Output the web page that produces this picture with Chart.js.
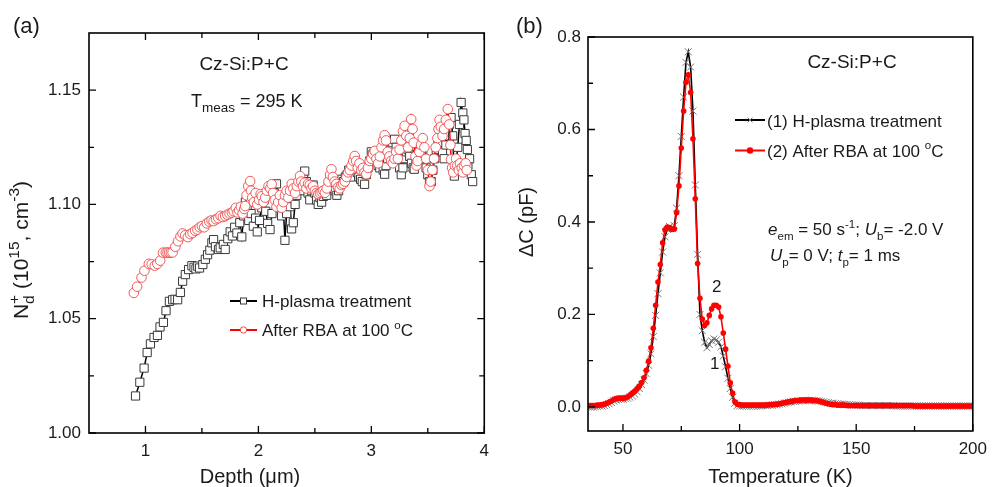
<!DOCTYPE html>
<html>
<head>
<meta charset="utf-8">
<script src="https://cdn.jsdelivr.net/npm/chart.js@4.4.1/dist/chart.umd.min.js"></script>
<style>
  html, body { margin: 0; padding: 0; background: #fff; }
  #wrap { position: relative; width: 995px; height: 487px; overflow: hidden; }
  #wrap canvas { position: absolute; top: 0; }
  #chartA { left: 0; }
  #chartB { left: 497px; }
</style>
</head>
<body>
<div id="wrap">
  <canvas id="chartA" width="497" height="487"></canvas>
  <canvas id="chartB" width="498" height="487"></canvas>
</div>
<script>
/* ======================================
   DATA  (a) Nd+ vs depth
====================================== */
const depthTicks = [1, 2, 3, 4];
const depthMinor = [1.5, 2.5, 3.5];
const ndTicks = [1.00, 1.05, 1.10, 1.15];
const ndMinor = [1.025, 1.075, 1.125];

const depthH = [0.912,0.950,0.988,1.015,1.044,1.076,1.106,1.129,1.159,1.182,
  1.212,1.241,1.262,1.285,1.309,1.329,1.353,1.382,1.411,1.430,
  1.447,1.463,1.479,1.508,1.530,1.550,1.570,1.588,1.603,1.620,
  1.647,1.662,1.690,1.706,1.729,1.750,1.770,1.790,1.810,1.835,
  1.853,1.870,1.885,1.900,1.915,1.935,1.955,1.975,1.990,2.010,
  2.030,2.050,2.065,2.082,2.103,2.120,2.140,2.160,2.175,2.190,
  2.205,2.220,2.235,2.250,2.265,2.280,2.294,2.309,2.325,2.340,
  2.355,2.370,2.385,2.400,2.410,2.425,2.440,2.455,2.470,2.485,
  2.500,2.515,2.530,2.545,2.560,2.575,2.590,2.605,2.620,2.635,
  2.650,2.665,2.680,2.695,2.710,2.725,2.740,2.755,2.770,2.785,
  2.800,2.815,2.830,2.845,2.860,2.875,2.890,2.905,2.920,2.940,
  2.955,2.970,2.985,3.000,3.015,3.030,3.045,3.060,3.075,3.090,
  3.105,3.118,3.130,3.145,3.160,3.175,3.190,3.206,3.220,3.235,
  3.250,3.265,3.280,3.295,3.310,3.325,3.340,3.355,3.370,3.380,
  3.395,3.410,3.425,3.440,3.455,3.470,3.485,3.500,3.515,3.530,
  3.545,3.560,3.575,3.590,3.605,3.618,3.630,3.645,3.660,3.675,
  3.690,3.706,3.720,3.735,3.750,3.765,3.780,3.795,3.810,3.820,
  3.830,3.840,3.850,3.855,3.870,3.885,3.897];

const ndH = [1.0162,1.0222,1.0284,1.0352,1.0390,1.0418,1.0427,1.0464,1.0484,1.0535,
  1.0576,1.0583,1.0585,1.0583,1.0615,1.0664,1.0693,1.0715,1.0732,1.0725,
  1.0718,1.0730,1.0722,1.0737,1.0760,1.0780,1.0800,1.0832,1.0846,1.0815,
  1.0803,1.0810,1.0825,1.0803,1.0850,1.0880,1.0862,1.0900,1.0875,1.0920,
  1.0858,1.0950,1.1010,1.0985,1.0930,1.0960,1.0905,1.0940,1.0880,1.0930,
  1.0985,1.1020,1.0970,1.0917,1.0890,1.0960,1.1050,1.1090,1.1030,1.0990,
  1.0950,1.0990,1.0843,1.0960,1.1020,1.0990,1.0893,1.0920,1.1000,1.1040,
  1.1080,1.1100,1.1060,1.1120,1.1146,1.1100,1.1050,1.1020,1.1060,1.1085,
  1.1050,1.1020,1.1000,1.1030,1.1010,1.1035,1.1060,1.1040,1.1080,1.1110,
  1.1090,1.1070,1.1060,1.1040,1.1060,1.1090,1.1110,1.1100,1.1120,1.1130,
  1.1150,1.1120,1.1150,1.1180,1.1170,1.1140,1.1120,1.1110,1.1100,1.1088,
  1.1130,1.1160,1.1190,1.1230,1.1220,1.1200,1.1190,1.1170,1.1160,1.1190,
  1.1150,1.1132,1.1170,1.1200,1.1230,1.1250,1.1270,1.1285,1.1250,1.1200,
  1.1160,1.1130,1.1160,1.1200,1.1230,1.1240,1.1210,1.1180,1.1160,1.1154,
  1.1190,1.1220,1.1230,1.1250,1.1230,1.1200,1.1160,1.1130,1.1100,1.1100,
  1.1150,1.1200,1.1240,1.1260,1.1280,1.1270,1.1230,1.1200,1.1260,1.1300,
  1.1350,1.1380,1.1300,1.1124,1.1180,1.1250,1.1350,1.1446,1.1400,1.1370,
  1.1310,1.1280,1.1240,1.1170,1.1200,1.1130,1.1100];

const depthR = [0.897,0.926,0.965,0.991,1.030,1.055,1.082,1.105,1.130,1.155,
  1.180,1.195,1.210,1.225,1.240,1.265,1.288,1.310,1.329,1.352,
  1.375,1.396,1.417,1.440,1.460,1.480,1.500,1.520,1.544,1.565,
  1.585,1.603,1.625,1.645,1.665,1.685,1.706,1.725,1.745,1.765,
  1.780,1.800,1.815,1.830,1.845,1.860,1.875,1.883,1.895,1.910,
  1.927,1.935,1.945,1.960,1.975,1.990,2.005,2.020,2.030,2.045,
  2.060,2.075,2.090,2.105,2.118,2.130,2.145,2.160,2.175,2.190,
  2.206,2.220,2.235,2.250,2.265,2.280,2.295,2.310,2.325,2.340,
  2.355,2.368,2.380,2.395,2.410,2.425,2.440,2.455,2.470,2.485,
  2.500,2.515,2.530,2.545,2.560,2.575,2.589,2.605,2.620,2.635,
  2.647,2.660,2.675,2.690,2.705,2.720,2.735,2.750,2.765,2.780,
  2.795,2.810,2.825,2.840,2.853,2.865,2.880,2.895,2.910,2.925,
  2.940,2.956,2.970,2.985,3.000,3.015,3.030,3.045,3.060,3.075,
  3.090,3.105,3.118,3.130,3.145,3.160,3.175,3.190,3.205,3.220,
  3.235,3.250,3.265,3.280,3.295,3.310,3.325,3.340,3.353,3.365,
  3.375,3.390,3.400,3.410,3.425,3.440,3.455,3.470,3.485,3.500,
  3.515,3.525,3.540,3.555,3.570,3.585,3.595,3.604,3.615,3.630,
  3.645,3.660,3.677,3.690,3.700,3.706,3.715,3.725,3.740,3.750,
  3.760,3.775,3.785,3.800,3.810,3.820,3.835,3.845];

const ndR = [1.0613,1.0640,1.0680,1.0710,1.0740,1.0738,1.0732,1.0740,1.0754,1.0789,
  1.0789,1.0789,1.0789,1.0789,1.0790,1.0815,1.0839,1.0860,1.0873,1.0865,
  1.0857,1.0870,1.0876,1.0885,1.0890,1.0900,1.0905,1.0900,1.0917,1.0925,
  1.0930,1.0927,1.0935,1.0940,1.0950,1.0945,1.0949,1.0955,1.0960,1.0964,
  1.0970,1.0985,1.0965,1.0975,1.0990,1.0960,1.0980,1.0993,1.1040,1.1080,
  1.1102,1.1060,1.1030,1.1010,1.1050,1.1000,1.1020,1.1045,1.1036,1.1010,
  1.1030,1.1060,1.1080,1.1070,1.1088,1.1050,1.1020,1.0990,1.1010,1.1040,
  1.0985,1.1010,1.1040,1.1060,1.1030,1.1060,1.1090,1.1070,1.1050,1.1080,
  1.1100,1.1124,1.1100,1.1080,1.1095,1.1070,1.1090,1.1085,1.1070,1.1080,
  1.1060,1.1050,1.1045,1.1050,1.1055,1.1060,1.1051,1.1070,1.1100,1.1130,
  1.1154,1.1120,1.1100,1.1090,1.1075,1.1070,1.1085,1.1090,1.1100,1.1120,
  1.1140,1.1150,1.1170,1.1190,1.1212,1.1190,1.1160,1.1180,1.1150,1.1160,
  1.1140,1.1132,1.1160,1.1190,1.1200,1.1220,1.1234,1.1200,1.1180,1.1210,
  1.1250,1.1280,1.1303,1.1280,1.1230,1.1210,1.1190,1.1180,1.1200,1.1230,
  1.1200,1.1240,1.1280,1.1320,1.1344,1.1300,1.1250,1.1290,1.1373,1.1330,
  1.1270,1.1210,1.1170,1.1190,1.1230,1.1260,1.1290,1.1250,1.1200,1.1150,
  1.1080,1.1100,1.1150,1.1200,1.1250,1.1290,1.1330,1.1370,1.1340,1.1300,
  1.1330,1.1370,1.1417,1.1350,1.1260,1.1197,1.1160,1.1140,1.1170,1.1200,
  1.1170,1.1150,1.1180,1.1160,1.1140,1.1170,1.1180,1.1150];

/* ======================================
   DATA  (b) DLTS spectra
====================================== */
const tempTicks = [50, 100, 150, 200];
const tempMinor = [75, 125, 175];
const dcTicks = [0.0, 0.2, 0.4, 0.6, 0.8];
const dcMinor = [0.1, 0.3, 0.5, 0.7];

const temps = [35,36,37,38,39,40,41,42,43,44,45,46,47,48,49,50,51,52,53,54,
  55,56,57,58,59,60,61,62,63,64,65,66,67,68,69,70,71,72,73,74,
  75,76,77,78,79,80,81,82,83,84,85,86,87,88,89,90,91,92,93,94,
  95,96,97,98,99,100,101,102,103,104,105,106,107,108,109,110,111,112,113,114,
  115,116,117,118,119,120,121,122,123,124,125,126,127,128,129,130,131,132,133,134,
  135,136,137,138,139,140,141,142,143,144,145,146,147,148,149,150,151,152,153,154,
  155,156,157,158,159,160,161,162,163,164,165,166,167,168,169,170,171,172,173,174,
  175,176,177,178,179,180,181,182,183,184,185,186,187,188,189,190,191,192,193,194,
  195,196,197,198,199,200];

const dcH = [0.000,0.000,0.000,0.001,0.001,0.002,0.002,0.003,0.005,0.007,
  0.010,0.013,0.015,0.016,0.017,0.017,0.018,0.019,0.021,0.024,
  0.028,0.033,0.040,0.048,0.058,0.072,0.090,0.115,0.152,0.198,
  0.245,0.290,0.335,0.368,0.384,0.390,0.386,0.392,0.430,0.500,
  0.585,0.670,0.745,0.768,0.735,0.640,0.480,0.330,0.200,0.165,
  0.140,0.128,0.135,0.143,0.147,0.145,0.140,0.130,0.110,0.087,
  0.062,0.040,0.021,0.008,0.003,0.002,0.002,0.002,0.002,0.002,
  0.002,0.002,0.002,0.002,0.002,0.003,0.003,0.003,0.004,0.004,
  0.005,0.005,0.006,0.007,0.008,0.009,0.010,0.011,0.012,0.012,
  0.013,0.013,0.014,0.014,0.014,0.014,0.014,0.014,0.013,0.013,
  0.012,0.011,0.010,0.009,0.008,0.008,0.007,0.007,0.006,0.006,
  0.005,0.005,0.005,0.004,0.004,0.004,0.004,0.003,0.003,0.003,
  0.003,0.003,0.003,0.003,0.003,0.003,0.003,0.003,0.003,0.003,
  0.003,0.003,0.002,0.002,0.002,0.002,0.002,0.002,0.002,0.002,
  0.002,0.002,0.002,0.002,0.002,0.002,0.002,0.002,0.002,0.002,
  0.002,0.002,0.002,0.002,0.002,0.002,0.002,0.002,0.002,0.002,
  0.002,0.002,0.002,0.002,0.002,0.002];

const dcR = [0.003,0.003,0.003,0.003,0.004,0.004,0.005,0.006,0.008,0.010,
  0.013,0.016,0.018,0.019,0.019,0.019,0.020,0.022,0.026,0.030,
  0.034,0.039,0.045,0.053,0.063,0.079,0.099,0.128,0.170,0.220,
  0.270,0.308,0.355,0.383,0.389,0.388,0.384,0.385,0.420,0.478,
  0.560,0.640,0.702,0.718,0.680,0.580,0.450,0.310,0.235,0.190,
  0.176,0.182,0.198,0.212,0.220,0.220,0.216,0.195,0.160,0.125,
  0.088,0.052,0.030,0.011,0.006,0.005,0.004,0.004,0.004,0.004,
  0.004,0.004,0.004,0.004,0.004,0.004,0.004,0.004,0.005,0.005,
  0.006,0.006,0.007,0.008,0.009,0.010,0.011,0.012,0.013,0.014,
  0.014,0.015,0.015,0.015,0.015,0.015,0.015,0.014,0.014,0.013,
  0.011,0.010,0.008,0.007,0.006,0.005,0.005,0.004,0.004,0.004,
  0.004,0.003,0.003,0.003,0.003,0.003,0.003,0.003,0.003,0.003,
  0.003,0.003,0.003,0.003,0.003,0.003,0.003,0.003,0.003,0.003,
  0.003,0.003,0.003,0.003,0.003,0.003,0.003,0.003,0.003,0.003,
  0.002,0.002,0.002,0.002,0.002,0.002,0.002,0.002,0.002,0.002,
  0.002,0.002,0.002,0.002,0.002,0.002,0.002,0.002,0.002,0.002,
  0.002,0.002,0.002,0.002,0.002,0.002];


/* ======================================
   HELPERS
====================================== */
const FONT = '"Liberation Sans", Arial, Helvetica, sans-serif';
Chart.defaults.font.family = FONT;
Chart.defaults.color = "#1a1a1a";

// parts: [text, flags]  flags: i = italic, b = subscript, p = superscript, s = stack on previous
function drawRich(ctx, parts, x, y, size, align, ratio = 0.68) {
  const small = size * ratio;
  const fontOf = f => (f.includes("i") ? "italic " : "") +
    ((f.includes("b") || f.includes("p")) ? small : size) + "px " + FONT;
  let cx = 0, prevStart = 0, prevW = 0;
  const items = parts.map(([t, f = ""]) => {
    ctx.font = fontOf(f);
    const w = ctx.measureText(t).width;
    let start;
    if (f.includes("s")) {
      start = prevStart;
      cx += Math.max(0, w - prevW);
    } else {
      start = cx;
      cx += w;
      prevStart = start;
      prevW = w;
    }
    const dy = f.includes("b") ? size * 0.28 : f.includes("p") ? -size * 0.42 : 0;
    return { t, f, start, dy };
  });
  const x0 = align === "center" ? x - cx / 2 : align === "right" ? x - cx : x;
  ctx.textAlign = "left";
  ctx.textBaseline = "alphabetic";
  items.forEach(it => {
    ctx.font = fontOf(it.f);
    ctx.fillText(it.t, x0 + it.start, y + it.dy);
  });
}

function drawTicks(ctx, chart, o) {
  const a = chart.chartArea, sx = chart.scales.x, sy = chart.scales.y;
  ctx.strokeStyle = "#000";
  ctx.lineWidth = 1.3;
  ctx.beginPath();
  const xt = (vals, len) => vals.forEach(v => {
    const p = sx.getPixelForValue(v);
    ctx.moveTo(p, a.bottom); ctx.lineTo(p, a.bottom - len);
    if (o.mirror) { ctx.moveTo(p, a.top); ctx.lineTo(p, a.top + len); }
  });
  const yt = (vals, len) => vals.forEach(v => {
    const p = sy.getPixelForValue(v);
    ctx.moveTo(a.left, p); ctx.lineTo(a.left + len, p);
    if (o.mirror) { ctx.moveTo(a.right, p); ctx.lineTo(a.right - len, p); }
  });
  xt(o.xMajor, 7); xt(o.xMinor, 5);
  yt(o.yMajor, 7); yt(o.yMinor, 5);
  ctx.stroke();
  ctx.lineWidth = 1.6;
  ctx.strokeRect(a.left, a.top, a.right - a.left, a.bottom - a.top);
}

const decorPlugin = {
  id: "decor",
  afterDraw(chart, args, opts) {
    const ctx = chart.ctx;
    ctx.save();
    drawTicks(ctx, chart, opts);
    ctx.fillStyle = "#1a1a1a";
    opts.texts(ctx, chart);
    ctx.restore();
  }
};

function fixedScale(width, height) {
  return s => {
    if (width) s.width = width;
    if (height) s.height = height;
  };
}


/* ======================================
   CHART (a)
====================================== */
new Chart(document.getElementById("chartA"), {
  type: "scatter",
  data: {
    datasets: [
      {
        label: "H-plasma treatment",
        data: depthH.map((x, i) => ({ x, y: ndH[i] })),
        showLine: true,
        borderColor: "#000",
        borderWidth: 1.5,
        pointStyle: "rect",
        pointRadius: 5.8,
        pointBorderColor: "#3a3a3a",
        pointBorderWidth: 1,
        pointBackgroundColor: "#fff",
        order: 1
      },
      {
        label: "After RBA at 100 °C",
        data: depthR.map((x, i) => ({ x, y: ndR[i] })),
        showLine: true,
        borderColor: "#ff0000",
        borderWidth: 1.5,
        pointStyle: "circle",
        pointRadius: 4.8,
        pointBorderColor: "#ee4a4a",
        pointBorderWidth: 0.9,
        pointBackgroundColor: "#fff",
        order: 0
      }
    ]
  },
  options: {
    responsive: false,
    animation: false,
    layout: { padding: { left: 0, top: 33, right: 10, bottom: 0 } },
    plugins: {
      legend: { display: false },
      tooltip: { enabled: false },
      decor: {
        mirror: true,
        xMajor: depthTicks, xMinor: depthMinor,
        yMajor: ndTicks, yMinor: ndMinor,
        texts(ctx, chart) {
          ctx.font = "22px " + FONT;
          ctx.textAlign = "left";
          ctx.textBaseline = "alphabetic";
          ctx.fillText("(a)", 13, 33);

          ctx.font = "19px " + FONT;
          ctx.textAlign = "center";
          ctx.fillText("Cz-Si:P+C", 244, 70);
          drawRich(ctx, [["T"], ["meas", "b"], [" = 295 K"]], 191, 107, 18, "left", 0.75);

          // legend
          ctx.lineWidth = 2;
          ctx.strokeStyle = "#000";
          ctx.beginPath(); ctx.moveTo(230, 301); ctx.lineTo(257, 301); ctx.stroke();
          ctx.lineWidth = 1;
          ctx.strokeStyle = "#3a3a3a";
          ctx.fillStyle = "#fff";
          ctx.fillRect(240.5, 298, 6, 6);
          ctx.strokeRect(240.5, 298, 6, 6);
          ctx.lineWidth = 2;
          ctx.strokeStyle = "#ff0000";
          ctx.beginPath(); ctx.moveTo(230, 330); ctx.lineTo(257, 330); ctx.stroke();
          ctx.lineWidth = 1;
          ctx.strokeStyle = "#ee4a4a";
          ctx.beginPath(); ctx.arc(243.5, 330, 3.2, 0, Math.PI * 2); ctx.fill(); ctx.stroke();

          ctx.fillStyle = "#1a1a1a";
          drawRich(ctx, [["H-plasma treatment"]], 262, 307, 17, "left");
          drawRich(ctx, [["After RBA at 100 "], ["o", "p"], ["C"]], 262, 336, 17, "left");

          // axis titles
          drawRich(ctx, [["Depth ("], ["\u03bc"], ["m)"]], 250, 483, 20, "center");
          ctx.save();
          ctx.translate(28, 250);
          ctx.rotate(-Math.PI / 2);
          drawRich(ctx, [["N"], ["d", "b"], ["+", "ps"], [" (10"], ["15", "p"], [", cm"], ["-3", "p"], [")"]], 0, 0, 21, "center", 0.74);
          ctx.restore();
        }
      }
    },
    scales: {
      x: {
        type: "linear", min: 0.5, max: 4,
        afterFit: fixedScale(null, 54),
        afterBuildTicks: s => { s.ticks = depthTicks.map(v => ({ value: v })); },
        grid: { display: false, drawTicks: false },
        border: { display: false },
        ticks: { padding: 8, font: { size: 17 }, color: "#1a1a1a", callback: v => String(v) }
      },
      y: {
        type: "linear", min: 1.0, max: 1.175,
        afterFit: fixedScale(89, null),
        afterBuildTicks: s => { s.ticks = ndTicks.map(v => ({ value: v })); },
        grid: { display: false, drawTicks: false },
        border: { display: false },
        ticks: { padding: 8, font: { size: 17 }, color: "#1a1a1a", callback: v => v.toFixed(2) }
      }
    }
  },
  plugins: [decorPlugin]
});


/* ======================================
   CHART (b)
====================================== */
new Chart(document.getElementById("chartB"), {
  type: "scatter",
  data: {
    datasets: [
      {
        label: "(1) H-plasma treatment",
        data: temps.map((x, i) => ({ x, y: dcH[i] })),
        showLine: true,
        borderColor: "#000",
        borderWidth: 1.6,
        pointStyle: "crossRot",
        pointRadius: 5,
        pointBorderColor: "#7a7a7a",
        pointBorderWidth: 1,
        order: 1
      },
      {
        label: "(2) After RBA at 100 °C",
        data: temps.map((x, i) => ({ x, y: dcR[i] })),
        showLine: true,
        borderColor: "#ff0000",
        borderWidth: 1.6,
        pointStyle: "circle",
        pointRadius: 2.8,
        pointBorderWidth: 0,
        pointBackgroundColor: "#ff0000",
        order: 0
      }
    ]
  },
  options: {
    responsive: false,
    animation: false,
    layout: { padding: { left: 0, top: 37, right: 14, bottom: 0 } },
    plugins: {
      legend: { display: false },
      tooltip: { enabled: false },
      decor: {
        mirror: false,
        xMajor: tempTicks, xMinor: tempMinor,
        yMajor: dcTicks, yMinor: dcMinor,
        texts(ctx, chart) {
          const a = chart.chartArea;
          const sx = chart.scales.x, sy = chart.scales.y;
          ctx.font = "22px " + FONT;
          ctx.textAlign = "left";
          ctx.textBaseline = "alphabetic";
          ctx.fillText("(b)", 19, 33);

          ctx.font = "19px " + FONT;
          ctx.textAlign = "center";
          ctx.fillText("Cz-Si:P+C", 355, 68);

          // legend
          ctx.lineWidth = 2;
          ctx.strokeStyle = "#000";
          ctx.beginPath(); ctx.moveTo(238, 120); ctx.lineTo(268, 120); ctx.stroke();
          ctx.lineWidth = 1;
          ctx.strokeStyle = "#7a7a7a";
          ctx.beginPath();
          ctx.moveTo(250.5, 117.5); ctx.lineTo(255.5, 122.5);
          ctx.moveTo(255.5, 117.5); ctx.lineTo(250.5, 122.5);
          ctx.stroke();
          ctx.lineWidth = 2;
          ctx.strokeStyle = "#ff0000";
          ctx.beginPath(); ctx.moveTo(238, 150.5); ctx.lineTo(268, 150.5); ctx.stroke();
          ctx.fillStyle = "#ff0000";
          ctx.beginPath(); ctx.arc(253, 150.5, 3.2, 0, Math.PI * 2); ctx.fill();

          ctx.fillStyle = "#1a1a1a";
          drawRich(ctx, [["(1) H-plasma treatment"]], 270, 126.5, 17, "left");
          drawRich(ctx, [["(2) After RBA at 100 "], ["o", "p"], ["C"]], 270, 156.5, 17, "left");

          drawRich(ctx, [["e", "i"], ["em", "b"], [" = 50 s"], ["-1", "p"], ["; "], ["U", "i"], ["b", "b"], ["= -2.0 V"]], 271, 235, 17, "left");
          drawRich(ctx, [["U", "i"], ["p", "b"], ["= 0 V; "], ["t", "i"], ["p", "b"], ["= 1 ms"]], 273, 261, 17, "left");

          // peak labels
          ctx.font = "17px " + FONT;
          ctx.textAlign = "center";
          ctx.textBaseline = "middle";
          ctx.fillText("2", sx.getPixelForValue(90.2), sy.getPixelForValue(0.258));
          ctx.fillText("1", sx.getPixelForValue(89.3), sy.getPixelForValue(0.092));

          // axis titles
          drawRich(ctx, [["Temperature (K)"]], (a.left + a.right) / 2, 483, 20, "center");
          ctx.save();
          ctx.translate(36, 222);
          ctx.rotate(-Math.PI / 2);
          drawRich(ctx, [["\u0394C (pF)"]], 0, 0, 20, "center");
          ctx.restore();
        }
      }
    },
    scales: {
      x: {
        type: "linear", min: 35, max: 200,
        afterFit: fixedScale(null, 56),
        afterBuildTicks: s => { s.ticks = tempTicks.map(v => ({ value: v })); },
        grid: { display: false, drawTicks: false },
        border: { display: false },
        ticks: { padding: 8, font: { size: 17 }, color: "#1a1a1a", callback: v => String(v) }
      },
      y: {
        type: "linear", min: -0.052, max: 0.8,
        afterFit: fixedScale(91, null),
        afterBuildTicks: s => { s.ticks = dcTicks.map(v => ({ value: v })); },
        grid: { display: false, drawTicks: false },
        border: { display: false },
        ticks: { padding: 7, font: { size: 17 }, color: "#1a1a1a", callback: v => v.toFixed(1) }
      }
    }
  },
  plugins: [decorPlugin]
});
</script>
</body>
</html>
